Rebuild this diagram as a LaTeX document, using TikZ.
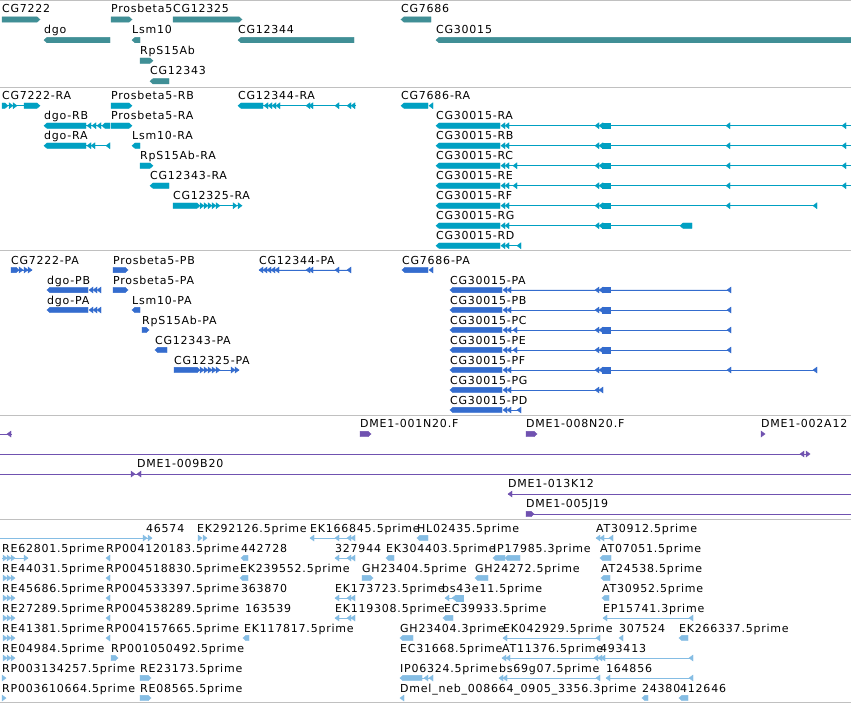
\documentclass[tikz,border=0pt]{standalone}
\usepackage{fontspec}
\usepackage{tikz}
\newfontfamily\lblfont[LetterSpace=7]{DejaVu Sans}
\definecolor{gene-teal}{RGB}{64,143,150}
\definecolor{mrna-cyan}{RGB}{0,160,194}
\definecolor{prot-blue}{RGB}{52,108,206}
\definecolor{bac-purple}{RGB}{112,82,176}
\definecolor{est-blue}{RGB}{133,189,228}
\definecolor{sep-gray}{RGB}{192,192,192}

% feature shapes: style, centre y, x1, x2 (or tip x)
\def\hh{2.7}
\newcommand\blkR[4]{\fill[#1] (#3,#2-\hh) -- (#4-3,#2-\hh) -- (#4,#2) -- (#4-3,#2+\hh) -- (#3,#2+\hh) -- cycle;}
\newcommand\blkL[4]{\fill[#1] (#4,#2-\hh) -- (#3+3,#2-\hh) -- (#3,#2) -- (#3+3,#2+\hh) -- (#4,#2+\hh) -- cycle;}
\newcommand\blkS[4]{\fill[#1] (#3,#2-\hh) rectangle (#4,#2+\hh);}
\newcommand\chR[3]{\fill[#1] (#3,#2) -- (#3-4,#2-3) -- (#3-4,#2+3) -- cycle;}
\newcommand\chL[3]{\fill[#1] (#3,#2) -- (#3+4,#2-3) -- (#3+4,#2+3) -- cycle;}
\newcommand\intr[4]{\draw[#1, line width=0.9pt] (#3,#2) -- (#4,#2);}

\begin{document}
\begin{tikzpicture}[
    x=1pt, y=-1pt,
    lbl/.style={anchor=base west, inner sep=0pt, font=\lblfont\fontsize{11}{13}\selectfont},
    sep/.style={draw=sep-gray, line width=1pt},
    gene/.style={fill=gene-teal, draw=gene-teal},
    mrna/.style={fill=mrna-cyan, draw=mrna-cyan},
    prot/.style={fill=prot-blue, draw=prot-blue},
    bac/.style={fill=bac-purple, draw=bac-purple},
    est/.style={fill=est-blue, draw=est-blue}
]
\useasboundingbox[fill=white] (0,0) rectangle (851,703);

% track separators
\foreach \yy in {0.7, 87.3, 251, 415.3, 519.3, 702.3} {
  \draw[sep] (0,\yy) -- (851,\yy);
}

% Genes
\node[lbl] (cg7222) at (2,13) {CG7222};
\blkR{gene}{19.5}{2}{40}
\node[lbl] (prosbeta5) at (111,13) {Prosbeta5};
\blkR{gene}{19.5}{111}{132}
\node[lbl] (cg12325) at (173,13) {CG12325};
\blkR{gene}{19.5}{173}{242}
\node[lbl] (cg7686) at (401,13) {CG7686};
\blkL{gene}{19.5}{401}{431}
\node[lbl] (dgo) at (44,33.6) {dgo};
\blkL{gene}{40.1}{44}{110}
\node[lbl] (lsm10) at (132,33.6) {Lsm10};
\blkL{gene}{40.1}{132}{140}
\node[lbl] (cg12344) at (238,33.6) {CG12344};
\blkL{gene}{40.1}{238}{354}
\node[lbl] (cg30015) at (436,33.6) {CG30015};
\blkL{gene}{40.1}{436}{851}
\node[lbl] (rps15ab) at (140,54.2) {RpS15Ab};
\blkR{gene}{60.7}{140}{153}
\node[lbl] (cg12343) at (150,74.8) {CG12343};
\blkL{gene}{81.3}{150}{169}

% Transcripts
\node[lbl] (cg7222-ra) at (2,100) {CG7222-RA};
\intr{mrna}{105.7}{2}{40}
\blkR{mrna}{105.7}{2}{8}
\foreach \t in {13,17} {\chR{mrna}{105.7}{\t}}
\blkR{mrna}{105.7}{24}{40}
\node[lbl] (prosbeta5-rb) at (111,100) {Prosbeta5-RB};
\blkR{mrna}{105.7}{111}{132}
\node[lbl] (cg12344-ra) at (238,100) {CG12344-RA};
\intr{mrna}{105.7}{238}{356}
\blkL{mrna}{105.7}{238}{263}
\foreach \t in {264,268,272,276,306,309,335,347,351} {\chL{mrna}{105.7}{\t}}
\node[lbl] (cg7686-ra) at (401,100) {CG7686-RA};
\blkL{mrna}{105.7}{401}{428}
\chL{mrna}{105.7}{429}

\node[lbl] (dgo-rb) at (44,120) {dgo-RB};
\intr{mrna}{125.7}{44}{110}
\blkL{mrna}{125.7}{44}{86}
\foreach \t in {87,92,97} {\chL{mrna}{125.7}{\t}}
\blkL{mrna}{125.7}{102}{110}
\node[lbl] (prosbeta5-ra) at (111,120) {Prosbeta5-RA};
\blkR{mrna}{125.7}{111}{132}

\node[lbl] (dgo-ra) at (44,140) {dgo-RA};
\intr{mrna}{145.7}{44}{110}
\blkL{mrna}{145.7}{44}{86}
\foreach \t in {87,91,106} {\chL{mrna}{145.7}{\t}}
\node[lbl] (lsm10-ra) at (132,140) {Lsm10-RA};
\blkL{mrna}{145.7}{132}{140}

\node[lbl] (rps15ab-ra) at (140,160) {RpS15Ab-RA};
\blkR{mrna}{165.7}{140}{153}
\node[lbl] (cg12343-ra) at (150,180) {CG12343-RA};
\blkL{mrna}{185.7}{150}{169}
\node[lbl] (cg12325-ra) at (173,200) {CG12325-RA};
\intr{mrna}{205.7}{173}{242}
\blkR{mrna}{205.7}{173}{200}
\foreach \t in {204,208,212,216,220,237,242} {\chR{mrna}{205.7}{\t}}

\foreach \k/\n in {1/RA,2/RB,3/RC,4/RE,5/RF,6/RG,7/RD} {
  \node[lbl] (cg30015-\n) at (436,100+20*\k) {CG30015-\n};
  \blkL{mrna}{105.7+20*\k}{436}{500}
  \chL{mrna}{105.7+20*\k}{501}
  \chL{mrna}{105.7+20*\k}{505}
}
\foreach \cy in {125.7,145.7,165.7,185.7} {
  \intr{mrna}{\cy}{509}{851}
  \chL{mrna}{\cy}{595} \chL{mrna}{\cy}{599}
  \blkS{mrna}{\cy}{602}{610}
  \chL{mrna}{\cy}{726} \chL{mrna}{\cy}{842}
}
\chL{mrna}{165.7}{513}
\chL{mrna}{185.7}{513}
\intr{mrna}{205.7}{509}{817}
\foreach \t in {595,599,726,813} {\chL{mrna}{205.7}{\t}}
\blkS{mrna}{205.7}{602}{610}
\intr{mrna}{225.7}{509}{692}
\foreach \t in {595,599} {\chL{mrna}{225.7}{\t}}
\blkS{mrna}{225.7}{602}{610}
\blkL{mrna}{225.7}{680}{692}
\intr{mrna}{245.7}{509}{521}
\chL{mrna}{245.7}{517}

% Proteins
\node[lbl] (cg7222-pa) at (11,264.7) {CG7222-PA};
\intr{prot}{270}{11}{32}
\blkR{prot}{270}{11}{19}
\foreach \t in {23,28,32} {\chR{prot}{270}{\t}}
\node[lbl] (prosbeta5-pb) at (113,264.7) {Prosbeta5-PB};
\blkR{prot}{270}{113}{128}
\node[lbl] (cg12344-pa) at (259,264.7) {CG12344-PA};
\intr{prot}{270}{259}{351}
\foreach \t in {259,263,267,271,275,306,309,335,347} {\chL{prot}{270}{\t}}
\node[lbl] (cg7686-pa) at (402,264.7) {CG7686-PA};
\blkL{prot}{270}{402}{428}
\chL{prot}{270}{429}

\node[lbl] (dgo-pb) at (47,284.7) {dgo-PB};
\blkL{prot}{290}{47}{88}
\foreach \t in {89,93,97} {\chL{prot}{290}{\t}}
\node[lbl] (prosbeta5-pa) at (113,284.7) {Prosbeta5-PA};
\blkR{prot}{290}{113}{128}
\node[lbl] (dgo-pa) at (47,304.7) {dgo-PA};
\blkL{prot}{310}{47}{88}
\foreach \t in {89,93,97} {\chL{prot}{310}{\t}}
\node[lbl] (lsm10-pa) at (132,304.7) {Lsm10-PA};
\blkL{prot}{310}{132}{140}
\node[lbl] (rps15ab-pa) at (142,324.7) {RpS15Ab-PA};
\blkR{prot}{330}{142}{149}
\node[lbl] (cg12343-pa) at (155,344.7) {CG12343-PA};
\blkL{prot}{350}{155}{167}
\node[lbl] (cg12325-pa) at (174,364.7) {CG12325-PA};
\intr{prot}{370}{174}{239}
\blkR{prot}{370}{174}{200}
\foreach \t in {204,208,212,216,220,235,239} {\chR{prot}{370}{\t}}

\foreach \k/\n in {1/PA,2/PB,3/PC,4/PE,5/PF,6/PG,7/PD} {
  \node[lbl] (cg30015-\n) at (450,264.7+20*\k) {CG30015-\n};
  \blkL{prot}{270+20*\k}{450}{502}
  \chL{prot}{270+20*\k}{503}
  \chL{prot}{270+20*\k}{507}
}
\foreach \cy in {290,310,330,350} {
  \intr{prot}{\cy}{510}{731}
  \chL{prot}{\cy}{595} \chL{prot}{\cy}{599}
  \blkS{prot}{\cy}{602}{610}
  \chL{prot}{\cy}{727}
}
\chL{prot}{330}{513}
\chL{prot}{350}{513}
\intr{prot}{370}{510}{817}
\foreach \t in {595,599,727,813} {\chL{prot}{370}{\t}}
\blkS{prot}{370}{602}{610}
\intr{prot}{390}{510}{603}
\foreach \t in {595,599} {\chL{prot}{390}{\t}}
\intr{prot}{410}{510}{521}
\chL{prot}{410}{517}

% BAC clones
\intr{bac}{434}{0}{12}
\chL{bac}{434}{7}
\node[lbl] (dme-001n20) at (360,427.3) {DME1-001N20.F};
\blkR{bac}{434}{360}{371}
\node[lbl] (dme-008n20) at (526,427.3) {DME1-008N20.F};
\blkR{bac}{434}{526}{537}
\node[lbl] (dme-002a12) at (761,427.3) {DME1-002A12};
\chR{bac}{434}{765}
\intr{bac}{454}{0}{808}
\chL{bac}{454}{800}
\chR{bac}{454}{810}
\node[lbl] (dme-009b20) at (137,467.3) {DME1-009B20};
\intr{bac}{474}{0}{851}
\chR{bac}{474}{135}
\chL{bac}{474}{137}
\node[lbl] (dme-013k12) at (508,487.3) {DME1-013K12};
\intr{bac}{494}{508}{851}
\chL{bac}{494}{508}
\node[lbl] (dme-005j19) at (526,507.3) {DME1-005J19};
\intr{bac}{514}{526}{851}
\blkR{bac}{514}{526}{534}

% ESTs
\node[lbl] (e46574) at (146,532) {46574};
\intr{est}{538}{0}{152}
\foreach \t in {147,152} {\chR{est}{538}{\t}}
\node[lbl] (ek292126) at (197,532) {EK292126.5prime};
\foreach \t in {202,207} {\chR{est}{538}{\t}}
\node[lbl] (ek166845) at (310,532) {EK166845.5prime};
\intr{est}{538}{310}{355}
\foreach \t in {310,335,347,351} {\chL{est}{538}{\t}}
\node[lbl] (hl02435) at (417,532) {HL02435.5prime};
\blkL{est}{538}{417}{428}
\node[lbl] (at30912) at (596,532) {AT30912.5prime};
\intr{est}{538}{596}{613}
\foreach \t in {596,600,609} {\chL{est}{538}{\t}}

\node[lbl] (re62801) at (2,552) {RE62801.5prime};
\intr{est}{558}{2}{28}
\foreach \t in {7,11,15,28} {\chR{est}{558}{\t}}
\node[lbl] (rp004120183) at (106,552) {RP004120183.5prime};
\chL{est}{558}{106}
\node[lbl] (e442728) at (241,552) {442728};
\blkL{est}{558}{241}{248}
\node[lbl] (e327944) at (335,552) {327944};
\intr{est}{558}{335}{355}
\foreach \t in {335,347,351} {\chL{est}{558}{\t}}
\node[lbl] (ek304403) at (386,552) {EK304403.5prime};
\blkL{est}{558}{386}{394}
\node[lbl] (ip17985) at (493,552) {IP17985.3prime};
\blkL{est}{558}{493}{505}
\blkL{est}{558}{505}{520}
\node[lbl] (at07051) at (600,552) {AT07051.5prime};
\blkL{est}{558}{600}{611}

\node[lbl] (re44031) at (2,572) {RE44031.5prime};
\foreach \t in {7,11,15} {\chR{est}{578}{\t}}
\node[lbl] (rp004518830) at (106,572) {RP004518830.5prime};
\chL{est}{578}{106}
\node[lbl] (ek239552) at (240,572) {EK239552.5prime};
\blkL{est}{578}{240}{248}
\node[lbl] (gh23404-5) at (362,572) {GH23404.5prime};
\blkR{est}{578}{362}{373}
\node[lbl] (gh24272) at (475,572) {GH24272.5prime};
\blkL{est}{578}{475}{488}
\node[lbl] (at24538) at (601,572) {AT24538.5prime};
\blkL{est}{578}{601}{610}

\node[lbl] (re45686) at (2,592) {RE45686.5prime};
\foreach \t in {7,11,15} {\chR{est}{598}{\t}}
\node[lbl] (rp004533397) at (106,592) {RP004533397.5prime};
\chL{est}{598}{106}
\node[lbl] (e363870) at (241,592) {363870};
\node[lbl] (ek173723) at (335,592) {EK173723.5prime};
\intr{est}{598}{335}{355}
\foreach \t in {335,347,351} {\chL{est}{598}{\t}}
\node[lbl] (bs43e11) at (442,592) {bs43e11.5prime};
\intr{est}{598}{445}{463}
\foreach \t in {445,452} {\chL{est}{598}{\t}}
\blkS{est}{598}{456}{463}
\node[lbl] (at30952) at (602,592) {AT30952.5prime};
\blkL{est}{598}{602}{609}

\node[lbl] (re27289) at (2,612) {RE27289.5prime};
\foreach \t in {7,11,15} {\chR{est}{618}{\t}}
\node[lbl] (rp004538289) at (106,612) {RP004538289.5prime};
\chL{est}{618}{106}
\node[lbl] (e163539) at (245,612) {163539};
\node[lbl] (ek119308) at (335,612) {EK119308.5prime};
\intr{est}{618}{335}{355}
\foreach \t in {335,347,351} {\chL{est}{618}{\t}}
\node[lbl] (ec39933) at (444,612) {EC39933.5prime};
\blkL{est}{618}{443}{453}
\node[lbl] (ep15741) at (603,612) {EP15741.3prime};
\intr{est}{618}{603}{693}
\foreach \t in {603,689} {\chL{est}{618}{\t}}

\node[lbl] (re41381) at (2,632) {RE41381.5prime};
\foreach \t in {7,11,15} {\chR{est}{638}{\t}}
\node[lbl] (rp004157665) at (106,632) {RP004157665.5prime};
\chL{est}{638}{106}
\node[lbl] (ek117817) at (244,632) {EK117817.5prime};
\blkL{est}{638}{243}{249}
\node[lbl] (gh23404-3) at (400,632) {GH23404.3prime};
\blkL{est}{638}{400}{413}
\node[lbl] (ek042929) at (503,632) {EK042929.5prime};
\intr{est}{638}{503}{600}
\foreach \t in {503,596} {\chL{est}{638}{\t}}
\node[lbl] (e307524) at (619,632) {307524};
\chL{est}{638}{619}
\node[lbl] (ek266337) at (679,632) {EK266337.5prime};
\blkL{est}{638}{679}{688}

\node[lbl] (re04984) at (2,652) {RE04984.5prime};
\foreach \t in {7,11,15} {\chR{est}{658}{\t}}
\node[lbl] (rp001050492) at (111,652) {RP001050492.5prime};
\blkR{est}{658}{111}{118}
\node[lbl] (ec31668) at (400,652) {EC31668.5prime};
\node[lbl] (at11376) at (502,652) {AT11376.5prime};
\intr{est}{658}{502}{600}
\foreach \t in {502,506,594,598} {\chL{est}{658}{\t}}
\node[lbl] (e493413) at (600,652) {493413};
\intr{est}{658}{600}{693}
\foreach \t in {601,689} {\chL{est}{658}{\t}}

\node[lbl] (rp003134257) at (2,672) {RP003134257.5prime};
\chR{est}{678}{6}
\node[lbl] (re23173) at (140,672) {RE23173.5prime};
\blkR{est}{678}{140}{151}
\node[lbl] (ip06324) at (400,672) {IP06324.5prime};
\intr{est}{678}{400}{433}
\blkL{est}{678}{400}{422}
\foreach \t in {424,429} {\chL{est}{678}{\t}}
\node[lbl] (bs69g07) at (499,672) {bs69g07.5prime};
\intr{est}{678}{499}{600}
\foreach \t in {499,503,596} {\chL{est}{678}{\t}}
\node[lbl] (e164856) at (606,672) {164856};
\intr{est}{678}{606}{693}
\foreach \t in {606,689} {\chL{est}{678}{\t}}

\node[lbl] (rp003610664) at (2,692) {RP003610664.5prime};
\chR{est}{698}{6}
\node[lbl] (re08565) at (140,692) {RE08565.5prime};
\blkR{est}{698}{140}{151}
\node[lbl] (dmel-neb) at (400,692) {Dmel\_neb\_008664\_0905\_3356.3prime};
\chL{est}{698}{400}
\node[lbl] (e24380) at (642,692) {24380};
\blkL{est}{698}{642}{648}
\node[lbl] (e412646) at (680,692) {412646};
\blkL{est}{698}{679}{688}

\end{tikzpicture}
\end{document}
